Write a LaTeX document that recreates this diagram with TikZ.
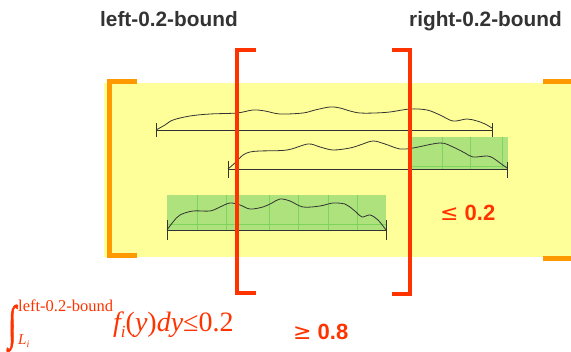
\documentclass[tikz,border=0pt]{standalone}
\usepackage{fontspec}
\setmainfont{Liberation Serif}
\setsansfont{Liberation Sans}
\newfontfamily\symfont{DejaVu Sans}
\newfontfamily\intfont[FakeBold=1.5]{Liberation Serif}
\definecolor{bandyellow}{HTML}{FFFF99}
\definecolor{boundred}{HTML}{FF3300}
\definecolor{rangeorange}{HTML}{FF9900}
\definecolor{massgreen}{HTML}{AEE27C}
\definecolor{gridgreen}{HTML}{7ED45C}
\definecolor{labelgray}{HTML}{333333}
\definecolor{curvegray}{HTML}{333333}
\tikzset{
  redbracket/.style={draw=boundred, line width=4.5pt, line join=miter},
  orangebracket/.style={draw=rangeorange, line width=5pt, line join=miter},
  baseline/.style={draw=curvegray, line width=0.9pt},
  density/.style={draw=curvegray, line width=0.8pt, smooth, tension=0.55},
  massbox/.style={fill=massgreen, draw=none},
  gridline/.style={draw=gridgreen, line width=0.6pt},
  boundlabel/.style={font=\sffamily\bfseries\fontsize{20.8}{24}\selectfont, text=labelgray, inner sep=0pt},
  masslabel/.style={font=\sffamily\bfseries\fontsize{22}{26}\selectfont, text=boundred, inner sep=0pt},
  formula/.style={text=boundred, inner sep=0pt}
}
\begin{document}
\begin{tikzpicture}[x=1pt, y=-1pt]
\useasboundingbox (0,0) rectangle (571,352);

% support band
\fill[bandyellow] (104,83) rectangle (571,257);

% shaded mass regions
\fill[massbox] (410,137) rectangle (508,169);
\foreach \gx in {442,470,502} \draw[gridline] (\gx,137) -- (\gx,169);
\draw[gridline] (410,166) -- (508,166);

\fill[massbox] (167,195) rectangle (386,230);
\foreach \gx in {197,226,269,298,328,357} \draw[gridline] (\gx,195) -- (\gx,230);
\draw[gridline] (167,224) -- (386,224);

% interval 1
\draw[baseline] (156,123) -- (156,137);
\draw[baseline] (156,130) -- (492,130);
\draw[baseline] (492,123) -- (492,137);
\draw[density] plot coordinates {(156,130) (165,125) (173,120) (190,116) (210,114) (237,113) (253,110) (265,111) (280,114) (303,113) (315,110) (330,107) (340,108) (350,111) (360,113) (375,113) (390,112) (410,109) (427,110) (440,115) (453,121) (467,119) (477,121) (485,124) (492,128)};

% interval 2
\draw[baseline] (228,161) -- (228,178);
\draw[baseline] (228,169) -- (507,169);
\draw[baseline] (507,162) -- (507,178);
\draw[density] plot coordinates {(228,169) (236,162) (243,155) (250,152) (260,151) (287,150) (308,144) (320,147) (333,150) (350,148) (360,145) (373,141) (385,144) (400,149) (413,148) (440,143) (453,147) (465,153) (473,157) (487,156) (493,158) (500,163) (507,168)};

% interval 3
\draw[baseline] (167,220) -- (167,240);
\draw[baseline] (167,230) -- (386,230);
\draw[baseline] (386,220) -- (386,240);
\draw[density] plot coordinates {(167,230) (173,222) (180,215) (193,211) (210,211) (220,207) (230,203) (240,205) (250,209) (263,207) (272,203) (280,199) (290,201) (303,207) (320,206) (333,203) (345,204) (350,207) (356,212) (362,217) (370,215) (378,220) (386,230)};

% outer range brackets
\draw[orangebracket] (137,82) -- (109,82) -- (109,256) -- (137,256);
\draw[orangebracket] (543,82) -- (571,82);
\draw[orangebracket] (543,259) -- (571,259);

% 0.2 bounds
\draw[redbracket] (256,50) -- (237,50) -- (237,293) -- (256,293);
\draw[redbracket] (392,50) -- (410,50) -- (410,294) -- (392,294);

% labels
\node[boundlabel, anchor=base west] (leftlbl) at (100,27) {left-0.2-bound};
\node[boundlabel, anchor=base west] (rightlbl) at (409,27) {right-0.2-bound};
\node[masslabel, anchor=base west] (tailmass) at (440,221) {{\symfont\mdseries ≤} 0.2};
\node[masslabel, anchor=base west] (coremass) at (293,340) {{\symfont\mdseries ≥} 0.8};

% tail integral
\node[formula, anchor=base west] (intsign) at (8,339) {\scalebox{1.0}[1.6]{\fontsize{30}{34}\intfont ∫}};
\node[formula, anchor=base west] (upperlim) at (18,312) {\fontsize{16.5}{18}\selectfont left-0.2-bound};
\node[formula, anchor=base west] (lowerlim) at (18,345) {\fontsize{15}{17}\selectfont\itshape L\raisebox{-0.35ex}{\fontsize{10}{12}\selectfont i}};
\node[formula, anchor=base west] (integrand) at (113,332) {\fontsize{28}{31}\selectfont\itshape f\raisebox{-0.4ex}{\fontsize{17}{20}\selectfont i}\upshape(\itshape y\upshape)\itshape dy\upshape≤0.2};
\end{tikzpicture}
\end{document}
